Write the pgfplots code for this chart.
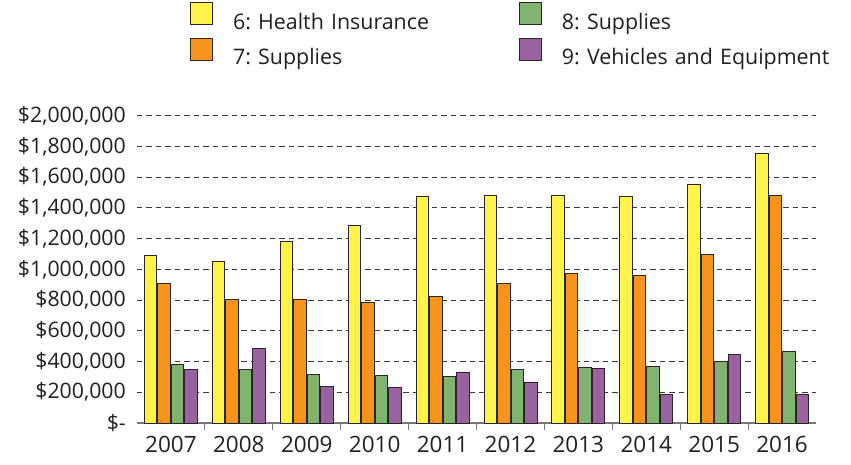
\documentclass[border=0pt]{standalone}
\usepackage{fontspec}
\setmainfont{Open Sans}
\usepackage{pgfplots}
\pgfplotsset{compat=1.18}
\frenchspacing
\definecolor{cY}{RGB}{255,242,74}
\definecolor{cO}{RGB}{247,148,30}
\definecolor{cG}{RGB}{130,179,113}
\definecolor{cP}{RGB}{154,98,160}
\definecolor{edge}{RGB}{40,38,38}
\definecolor{txt}{RGB}{35,31,32}
\definecolor{gridc}{RGB}{55,55,55}
\definecolor{axc}{RGB}{120,120,120}
\begin{document}
\frenchspacing
\begin{tikzpicture}
\path[use as bounding box] (-137pt,-41pt) rectangle (714pt,423pt);
\begin{axis}[
  at={(0pt,0pt)}, anchor=south west,
  scale only axis, width=679pt, height=307.3pt,
  ybar=1pt, bar width=12.5pt,
  xmin=-0.5, xmax=9.5, ymin=0, ymax=2000000,
  xtick={0,...,9},
  xticklabels={2007,2008,2009,2010,2011,2012,2013,2014,2015,2016},
  ytick={0,200000,...,2000000},
  yticklabels={\$-,\$200{,}000,\$400{,}000,\$600{,}000,\$800{,}000,\$1{,}000{,}000,\$1{,}200{,}000,\$1{,}400{,}000,\$1{,}600{,}000,\$1{,}800{,}000,\$2{,}000{,}000},
  scaled y ticks=false,
  axis x line*=bottom, axis y line*=left,
  x axis line style={-, draw=axc, line width=1.2pt},
  y axis line style={draw=none},
  ytick style={draw=none},
  xtick style={draw=none},
  major tick length=0pt,
  extra x ticks={0.5,1.5,...,8.5},
  extra x tick labels={},
  extra x tick style={major tick length=7pt, tick align=outside, xtick style={draw=axc, line width=1pt}},
  ymajorgrids,
  major grid style={draw=gridc, line width=1pt, dash pattern=on 5.5pt off 4pt},
  yticklabel style={font=\fontsize{21.3}{24}\selectfont, text=txt, anchor=east, inner sep=0pt, xshift=-11pt},
  xticklabel style={font=\fontsize{22.5}{26}\selectfont, text=txt, anchor=north, inner sep=0pt, yshift=-13pt},
  every axis plot/.append style={draw=edge, line width=0.9pt},
  legend columns=2, transpose legend,
  legend image code/.code={\draw[#1, draw=edge, line width=0.9pt] (0pt,-3pt) rectangle (22pt,19pt);},
  legend style={draw=none, fill=none, at={(0.0736,1.376)}, anchor=north west,
    font=\fontsize{21.4}{24}\selectfont, text=txt,
    nodes={inner sep=0pt, text width=266pt, align=left},
    column sep=20pt, row sep=7pt},
]
\addplot[fill=cY] coordinates {(0,1093000) (1,1050000) (2,1182000) (3,1286000) (4,1473000) (5,1479000) (6,1484000) (7,1473000) (8,1555000) (9,1753000)};
\addplot[fill=cO] coordinates {(0,911000) (1,803000) (2,803000) (3,787000) (4,822000) (5,909000) (6,974000) (7,961000) (8,1098000) (9,1479000)};
\addplot[fill=cG] coordinates {(0,382000) (1,351000) (2,317000) (3,312000) (4,301000) (5,349000) (6,362000) (7,367000) (8,399000) (9,467000)};
\addplot[fill=cP] coordinates {(0,349000) (1,482000) (2,239000) (3,230000) (4,332000) (5,267000) (6,356000) (7,184000) (8,445000) (9,189000)};
\legend{\mbox{6: Health Insurance},\mbox{7: Supplies},\mbox{8: Supplies},\mbox{9: Vehicles and Equipment}}
\end{axis}
\end{tikzpicture}
\end{document}
